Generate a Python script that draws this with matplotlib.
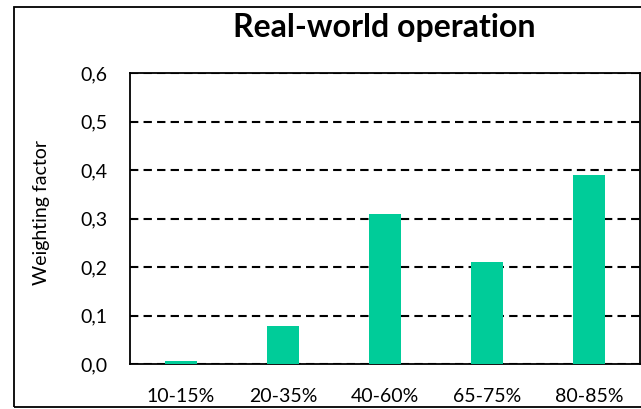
import matplotlib.pyplot as plt
from matplotlib.patches import Rectangle
from matplotlib.ticker import FuncFormatter

# data
categories = ['10-15%', '20-35%', '40-60%', '65-75%', '80-85%']
weights = [0.006, 0.078, 0.31, 0.21, 0.39]
yticks = [0.0, 0.1, 0.2, 0.3, 0.4, 0.5, 0.6]

bar_color = '#00CC99'
plt.rcParams['font.family'] = ['Lato', 'DejaVu Sans']

fig = plt.figure(figsize=(6.41, 4.09), dpi=100)
ax = fig.add_axes([130 / 641, 1 - 364 / 409, 510 / 641, 291 / 409])

x = range(len(categories))
ax.bar(x, weights, width=0.31, color=bar_color, zorder=3)

ax.set_xlim(-0.5, len(categories) - 0.5)
ax.set_ylim(0, 0.6)
ax.set_yticks(yticks)
ax.yaxis.set_major_formatter(FuncFormatter(lambda v, p: f'{v:.1f}'.replace('.', ',')))
ax.set_xticks(list(x))
ax.set_xticklabels(categories)
ax.tick_params(axis='both', length=0, labelsize=14, colors='black')
ax.tick_params(axis='y', pad=16)
ax.tick_params(axis='x', pad=17)

ax.grid(axis='y', color='black', linestyle=(0, (4, 2.5)), linewidth=1.5, zorder=1)
for s in ax.spines.values():
    s.set_linewidth(1.3)
    s.set_color('black')

ax.set_ylabel('Weighting factor', fontsize=14)
ax.yaxis.set_label_coords(-80 / 510, 0.52)
fig.text(384 / 641, 1 - 27 / 409, 'Real-world operation', fontsize=23,
         fontweight='bold', ha='center', va='center')

# outer chart frame
fig.patches.append(Rectangle((14 / 641, 1 - 407 / 409), 1.0, 400 / 409,
                             transform=fig.transFigure, fill=False,
                             edgecolor='black', linewidth=1.3))

fig.savefig('out.png', dpi=100)
